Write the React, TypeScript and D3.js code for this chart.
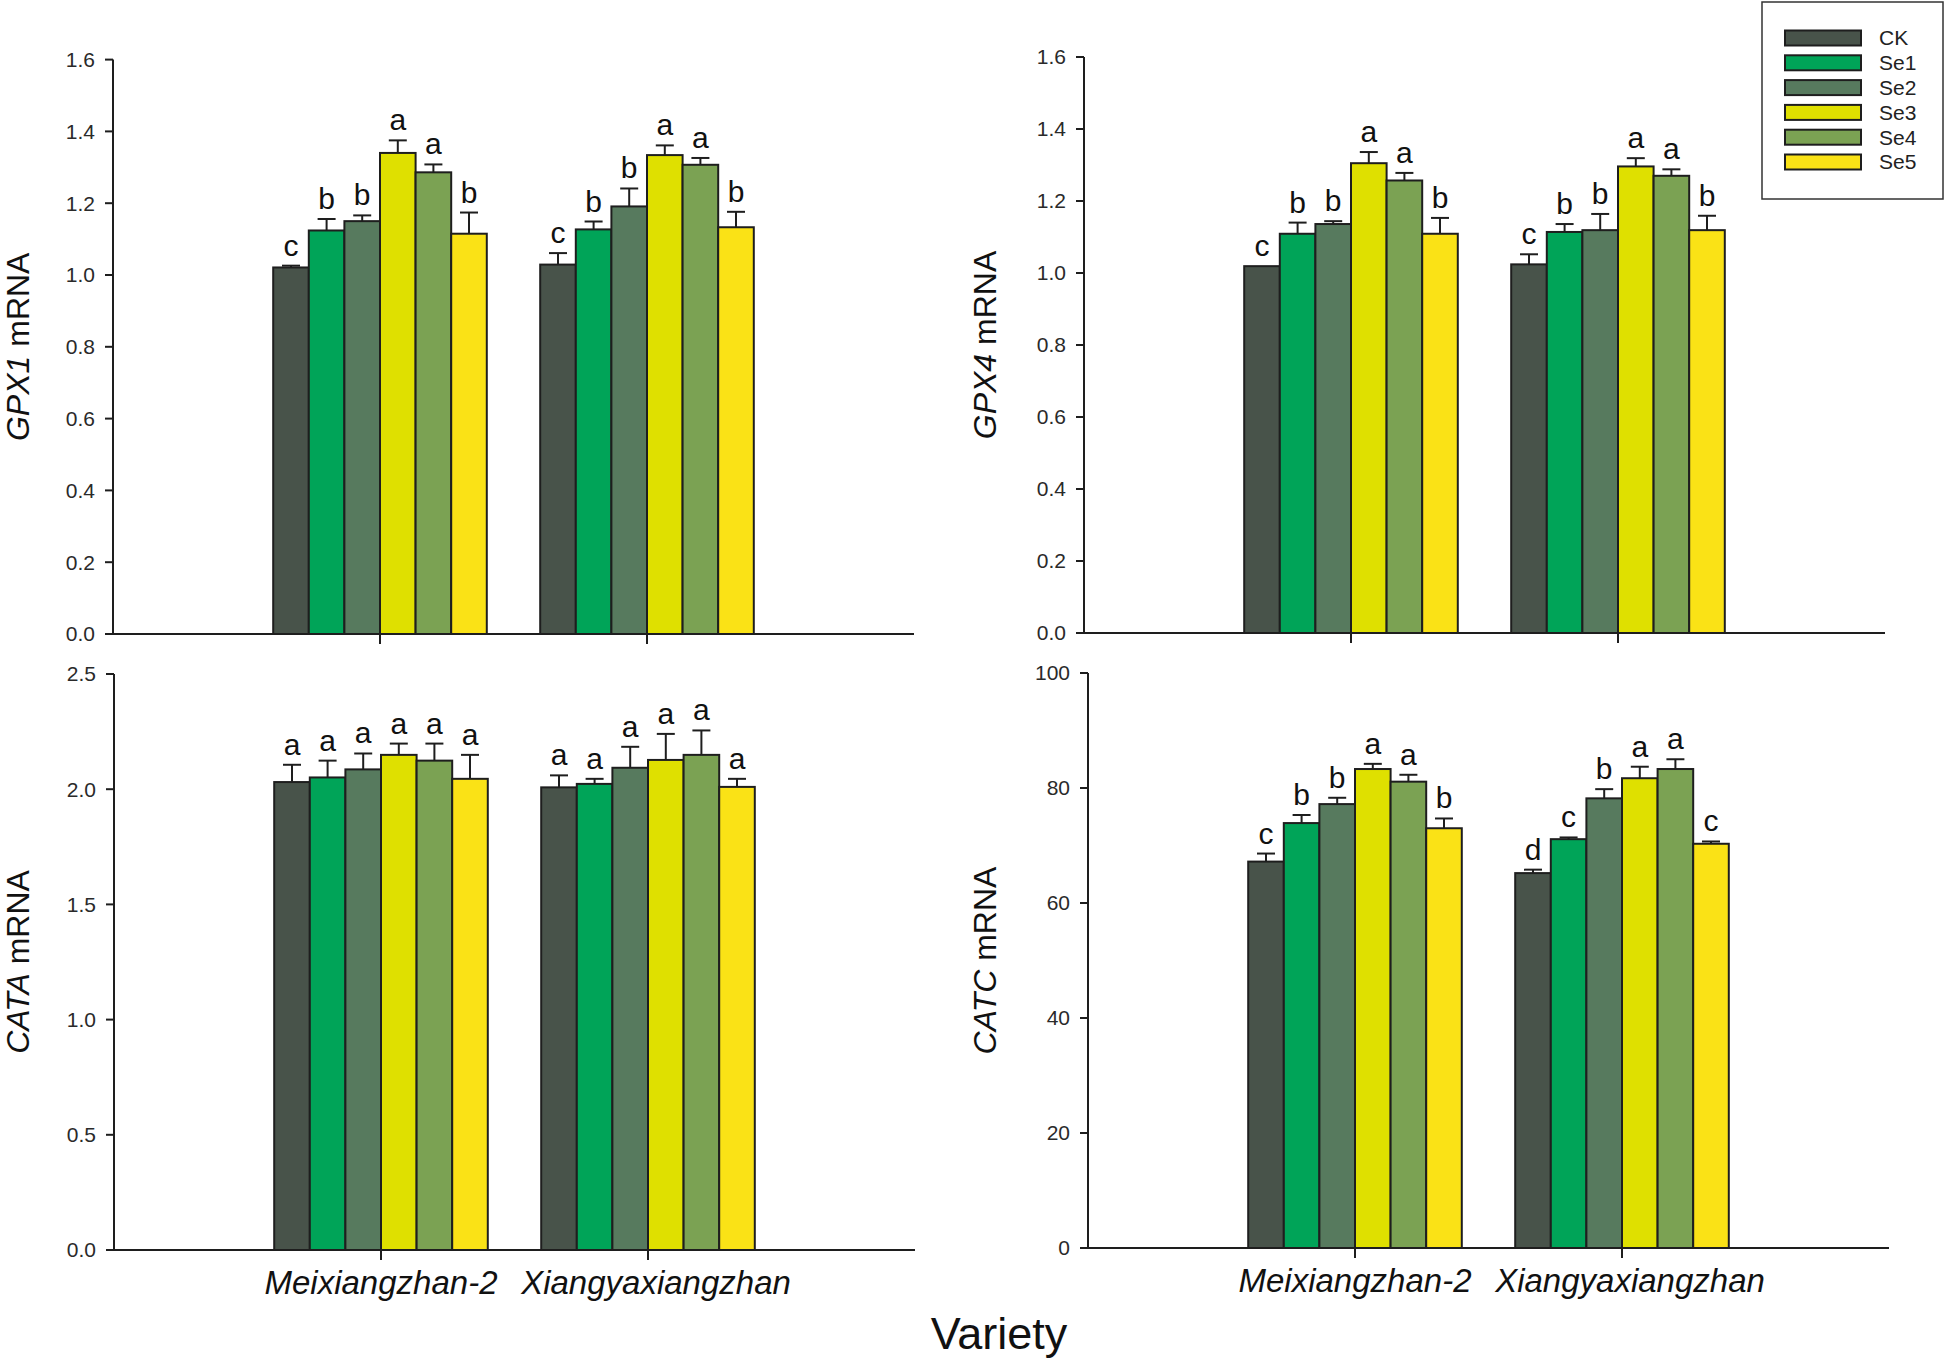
import React from "react";
import * as d3 from "d3";

const categories = ["Meixiangzhan-2", "Xiangyaxiangzhan"];
const treatments = ["CK", "Se1", "Se2", "Se3", "Se4", "Se5"];
const colors = ["#48534A", "#00A458", "#577A5E", "#DFE000", "#7BA253", "#FAE216"];

const gpx1Mean = [[1.021, 1.124, 1.150, 1.340, 1.286, 1.115], [1.029, 1.127, 1.191, 1.334, 1.307, 1.133]];
const gpx1Err = [[0.005, 0.032, 0.016, 0.035, 0.022, 0.059], [0.032, 0.022, 0.05, 0.027, 0.019, 0.043]];
const gpx1Letters = [["c", "b", "b", "a", "a", "b"], ["c", "b", "b", "a", "a", "b"]];

const gpx4Mean = [[1.019, 1.109, 1.136, 1.305, 1.257, 1.109], [1.024, 1.114, 1.119, 1.296, 1.270, 1.119]];
const gpx4Err = [[0, 0.031, 0.008, 0.031, 0.021, 0.044], [0.028, 0.022, 0.045, 0.023, 0.018, 0.04]];
const gpx4Letters = [["c", "b", "b", "a", "a", "b"], ["c", "b", "b", "a", "a", "b"]];

const cataMean = [[2.031, 2.051, 2.086, 2.149, 2.124, 2.045], [2.008, 2.023, 2.093, 2.127, 2.149, 2.010]];
const cataErr = [[0.075, 0.073, 0.069, 0.049, 0.074, 0.104], [0.052, 0.022, 0.091, 0.113, 0.106, 0.035]];
const cataLetters = [["a", "a", "a", "a", "a", "a"], ["a", "a", "a", "a", "a", "a"]];

const catcMean = [[67.2, 73.9, 77.2, 83.3, 81.1, 73.0], [65.2, 71.1, 78.2, 81.7, 83.3, 70.3]];
const catcErr = [[1.4, 1.4, 1.1, 0.9, 1.2, 1.7], [0.6, 0.3, 1.6, 2.0, 1.7, 0.4]];
const catcLetters = [["c", "b", "b", "a", "a", "b"], ["d", "c", "b", "a", "a", "c"]];

const gpxTicks = [0, 0.2, 0.4, 0.6, 0.8, 1.0, 1.2, 1.4, 1.6];
const cataTicks = [0, 0.5, 1.0, 1.5, 2.0, 2.5];
const catcTicks = [0, 20, 40, 60, 80, 100];

const FONT = "'Liberation Sans', Arial, Helvetica, sans-serif";
const INK = "#1e1e1e";

type PanelProps = {
  x0: number; x1: number; yTop: number; yBot: number;
  yMax: number; ticks: number[]; fmt: (v: number) => string;
  means: number[][]; errs: number[][]; letters: string[][];
  gene: string; labelX: number; showCats: boolean;
};

function Panel(p: PanelProps) {
  const x = d3.scaleLinear().domain([0, 3]).range([p.x0, p.x1]);
  const y = d3.scaleLinear().domain([0, p.yMax]).range([p.yBot, p.yTop]);
  const groupW = 0.8;
  const bw = groupW / treatments.length;
  const capHalf = 9;
  const mid = (p.yTop + p.yBot) / 2;
  return (
    <g>
      {categories.map((c, ci) =>
        treatments.map((t, ti) => {
          const left = x(ci + 1 - groupW / 2 + ti * bw);
          const right = x(ci + 1 - groupW / 2 + (ti + 1) * bw);
          const v = p.means[ci][ti];
          const e = p.errs[ci][ti];
          const cx = (left + right) / 2;
          const top = y(v);
          const capY = y(v + e);
          return (
            <g key={c + t}>
              <rect x={left} y={top} width={right - left} height={p.yBot - top}
                fill={colors[ti]} stroke={INK} strokeWidth={2} />
              {e > 0 && (
                <g stroke={INK} strokeWidth={2}>
                  <line x1={cx} x2={cx} y1={top} y2={capY} />
                  <line x1={cx - capHalf} x2={cx + capHalf} y1={capY} y2={capY} />
                </g>
              )}
              <text x={cx} y={capY - 10} textAnchor="middle" fontSize={30}
                fontFamily={FONT} fill="#111">{p.letters[ci][ti]}</text>
            </g>
          );
        })
      )}
      <line x1={p.x0} x2={p.x0} y1={p.yTop} y2={p.yBot} stroke={INK} strokeWidth={2} />
      {p.ticks.map((tv) => (
        <g key={tv}>
          <line x1={p.x0 - 8} x2={p.x0} y1={y(tv)} y2={y(tv)} stroke={INK} strokeWidth={2} />
          <text x={p.x0 - 18} y={y(tv)} dy="0.35em" textAnchor="end" fontSize={21}
            fontFamily={FONT} fill="#2a2a2a">{p.fmt(tv)}</text>
        </g>
      ))}
      <line x1={p.x0 - 8} x2={p.x1} y1={p.yBot} y2={p.yBot} stroke={INK} strokeWidth={2} />
      {categories.map((c, ci) => (
        <g key={c}>
          <line x1={x(ci + 1)} x2={x(ci + 1)} y1={p.yBot} y2={p.yBot + 10} stroke={INK} strokeWidth={2} />
          {p.showCats && (
            <text x={x(ci + 1) + ci * 8} y={p.yBot + 44} textAnchor="middle" fontSize={33}
              fontStyle="italic" fontFamily={FONT} fill="#111">{c}</text>
          )}
        </g>
      ))}
      <text transform={`translate(${p.labelX},${mid}) rotate(-90)`} textAnchor="middle"
        fontSize={32} fontFamily={FONT} fill="#111">
        <tspan fontStyle="italic">{p.gene}</tspan>
        <tspan> mRNA</tspan>
      </text>
    </g>
  );
}

export default function App() {
  const f1 = d3.format(".1f");
  const f0 = d3.format("d");
  return (
    <svg width={1946} height={1362} style={{ position: "absolute", left: 0, top: 0, background: "#fff" }}>
      <rect width={1946} height={1362} fill="#fff" />
      <Panel x0={113} x1={914} yTop={59.6} yBot={634} yMax={1.6} ticks={gpxTicks} fmt={f1}
        means={gpx1Mean} errs={gpx1Err} letters={gpx1Letters} gene="GPX1" labelX={29} showCats={false} />
      <Panel x0={1084} x1={1885} yTop={57} yBot={633} yMax={1.6} ticks={gpxTicks} fmt={f1}
        means={gpx4Mean} errs={gpx4Err} letters={gpx4Letters} gene="GPX4" labelX={996} showCats={false} />
      <Panel x0={114} x1={915} yTop={674} yBot={1250} yMax={2.5} ticks={cataTicks} fmt={f1}
        means={cataMean} errs={cataErr} letters={cataLetters} gene="CATA" labelX={29} showCats={true} />
      <Panel x0={1088} x1={1889} yTop={673} yBot={1248} yMax={100} ticks={catcTicks} fmt={f0}
        means={catcMean} errs={catcErr} letters={catcLetters} gene="CATC" labelX={996} showCats={true} />
      <text x={999} y={1349} textAnchor="middle" fontSize={45} fontFamily={FONT} fill="#111">Variety</text>
      <g>
        <rect x={1762} y={2} width={181} height={197} fill="#fff" stroke="#333" strokeWidth={1.5} />
        {treatments.map((t, i) => (
          <g key={t}>
            <rect x={1785} y={38 + i * 24.8 - 7.5} width={76} height={15} fill={colors[i]} stroke={INK} strokeWidth={2} />
            <text x={1879} y={38 + i * 24.8} dy="0.35em" fontSize={21} fontFamily={FONT} fill="#222">{t}</text>
          </g>
        ))}
      </g>
    </svg>
  );
}
